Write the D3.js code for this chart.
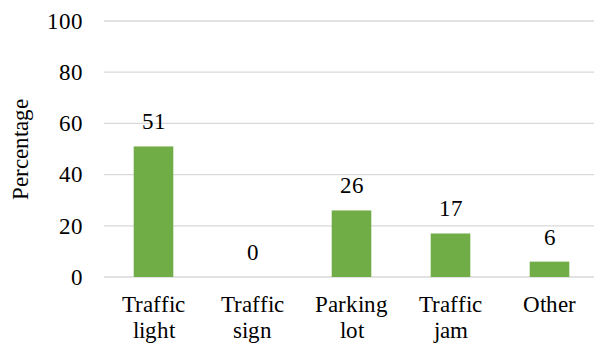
<!DOCTYPE html>
<html>
<head>
<meta charset="utf-8">
<script src="https://cdn.jsdelivr.net/npm/d3@7"></script>
<style>
  @font-face { font-family: "ChartSerif"; src: local("Liberation Serif"), local("LiberationSerif"), local("Times New Roman"); }
  body { margin: 0; }
  svg text { font-family: "ChartSerif", "Liberation Serif", "Times New Roman", Times, serif !important; }
</style>
</head>
<body>
<svg width="595" height="345"></svg>
<script>
// data
var categories = [["Traffic", "light"], ["Traffic", "sign"], ["Parking", "lot"], ["Traffic", "jam"], ["Other"]];
var values = [51, 0, 26, 17, 6];
var yTicks = [0, 20, 40, 60, 80, 100];

var FSIZE = 22.5;
var svgWidth = 595, svgHeight = 345;
var margin = { top: 21, right: 0, bottom: 68, left: 104 };
var width = 599 - margin.left;
var height = svgHeight - margin.top - margin.bottom;

var svg = d3.select("svg");

var chartGroup = svg.append("g")
  .attr("transform", `translate(${margin.left}, ${margin.top})`);

var xScale = d3.scaleBand()
  .domain(d3.range(values.length))
  .range([0, width])
  .paddingInner(0.6)
  .paddingOuter(0.3);

var yScale = d3.scaleLinear()
  .domain([0, 100])
  .range([height, 0]);

// gridlines
chartGroup.selectAll(".grid")
  .data(yTicks)
  .enter()
  .append("line")
  .attr("x1", 0)
  .attr("x2", width - 5)
  .attr("y1", d => yScale(d))
  .attr("y2", d => yScale(d))
  .attr("stroke", "#d9d9d9")
  .attr("stroke-width", 1.3);

// y tick labels
var yAxis = d3.axisLeft(yScale).tickValues(yTicks).tickSize(0).tickPadding(21);
var yG = chartGroup.append("g")
  .call(yAxis)
  .attr("font-size", FSIZE);
yG.select(".domain").remove();
yG.selectAll("text").attr("fill", "#000");

// bars
chartGroup.selectAll("rect")
  .data(values)
  .enter()
  .append("rect")
  .attr("x", (d, i) => xScale(i))
  .attr("y", d => yScale(d))
  .attr("width", xScale.bandwidth())
  .attr("height", d => height - yScale(d))
  .attr("fill", "#70ad47");

// value labels
chartGroup.selectAll(".val")
  .data(values)
  .enter()
  .append("text")
  .attr("x", (d, i) => xScale(i) + xScale.bandwidth() / 2)
  .attr("y", d => yScale(d) - 17)
  .attr("text-anchor", "middle")
  .attr("font-size", FSIZE)
  .text(d => d);

// category labels
var catGroup = chartGroup.selectAll(".cat")
  .data(categories)
  .enter()
  .append("text")
  .attr("text-anchor", "middle")
  .attr("transform", (d, i) => `translate(${xScale(i) + xScale.bandwidth() / 2}, ${height + 35})`)
  .attr("font-size", FSIZE);

catGroup.selectAll("tspan")
  .data(d => d)
  .enter()
  .append("tspan")
  .attr("x", 0)
  .attr("y", (d, j) => j * 26)
  .text(d => d);

// y axis title
svg.append("text")
  .attr("transform", `translate(28, ${margin.top + height / 2}) rotate(-90)`)
  .attr("text-anchor", "middle")
  .attr("font-size", FSIZE)
  .text("Percentage");
</script>
</body>
</html>
